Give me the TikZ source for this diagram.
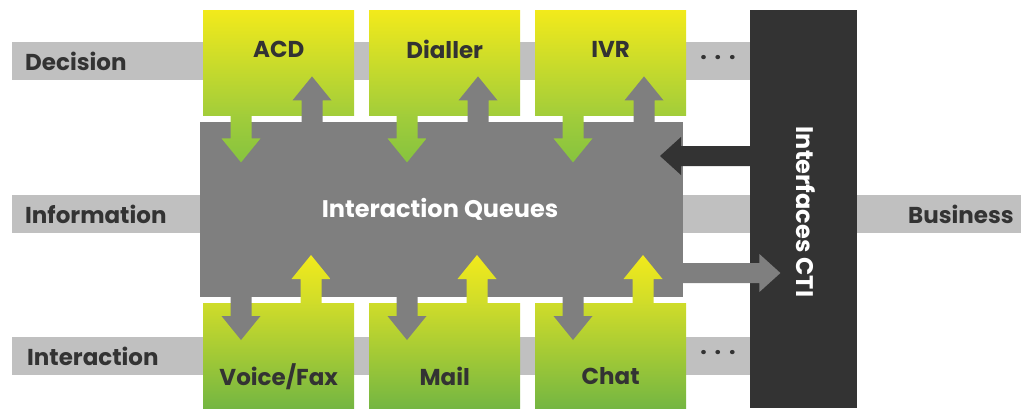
\documentclass[tikz,border=0pt]{standalone}
\usepackage{fontspec}
\setmainfont{Poppins}
\usetikzlibrary{calc,positioning}

\definecolor{bandgray}{HTML}{C0C0C0}
\definecolor{queuegray}{HTML}{7F7F7F}
\definecolor{ctidark}{HTML}{333333}
\definecolor{labeltext}{HTML}{333333}
\definecolor{boxyellow}{HTML}{F2EA1B}
\definecolor{boxlime}{HTML}{A2CD3A}
\definecolor{lowtop}{HTML}{CFDC2A}
\definecolor{lowgreen}{HTML}{74B642}
\definecolor{tipgreen}{HTML}{86C33F}

% block arrows: style, tail, signed length (y grows downwards)
\newcommand{\vblock}[3]{%
  \pgfmathsetmacro{\hb}{#3-24*#3/abs(#3)}
  \path[#1, shift={(#2)}] (-10.5,0) -- (-10.5,\hb) -- (-19.5,\hb) -- (0,#3)
    -- (19.5,\hb) -- (10.5,\hb) -- (10.5,0) -- cycle;
}
\newcommand{\hblock}[3]{%
  \pgfmathsetmacro{\hb}{#3-21*#3/abs(#3)}
  \path[#1, shift={(#2)}] (0,-10) -- (\hb,-10) -- (\hb,-19) -- (#3,0)
    -- (\hb,19) -- (\hb,10) -- (0,10) -- cycle;
}

\tikzset{
  band/.style={fill=bandgray, inner sep=0, anchor=north west},
  topbox/.style={top color=boxyellow, bottom color=boxlime, inner sep=0,
    minimum width=151, minimum height=105, anchor=north west},
  lowbox/.style={top color=lowtop, bottom color=lowgreen, inner sep=0,
    minimum width=151, minimum height=105, anchor=north west},
  lbl/.style={text=labeltext, font=\fontsize{23}{27}\selectfont\bfseries, inner sep=0},
  whitelbl/.style={text=white, font=\fontsize{24}{28}\selectfont\bfseries, inner sep=0},
}

\begin{document}
\begin{tikzpicture}[x=1pt, y=-1pt]
    \useasboundingbox (0,0) rectangle (1021,410);

    % Draw the three layer bands
    \node[band, minimum width=738, minimum height=38] (decband) at (12,42) {};
    \node[band, minimum width=1009, minimum height=38] (infband) at (12,195) {};
    \node[band, minimum width=738, minimum height=38] (intband) at (12,337) {};

    % Draw the boxes
    \node[fill=queuegray, inner sep=0, minimum width=483, minimum height=175,
      anchor=north west] (queue) at (200,122) {};
    \node[fill=ctidark, inner sep=0, minimum width=107, minimum height=398,
      anchor=north west] (cti) at (750,10) {};
    \foreach \bx/\nm in {203/acd, 369/dial, 535/ivr}
        \node[topbox] (\nm) at (\bx,10) {};
    \foreach \bx/\nm in {203/voice, 369/mail, 535/chat}
        \node[lowbox] (\nm) at (\bx,303) {};

    % Arrows between decision boxes and queues
    \foreach \nm in {acd, dial, ivr} {
        \coordinate (\nm-dn) at ($(\nm.south west)+(38,-1)$);
        \coordinate (\nm-up) at ($(\nm.south west)+(109,8)$);
        \vblock{top color=boxlime, bottom color=tipgreen}{\nm-dn}{48}
        \vblock{fill=queuegray}{\nm-up}{-47}
    }

    % Arrows between queues and interaction boxes
    \foreach \nm in {voice, mail, chat} {
        \coordinate (\nm-dn) at ($(\nm.north west)+(38,-7)$);
        \coordinate (\nm-up) at ($(\nm.north west)+(108,1)$);
        \vblock{fill=queuegray}{\nm-dn}{44}
        \vblock{top color=boxyellow, bottom color=lowtop}{\nm-up}{-49}
    }

    % Arrows to and from the CTI interfaces
    \coordinate (cti-in) at ($(cti.north west)+(1,146)$);
    \coordinate (queue-out) at ($(queue.north east)+(-1,151)$);
    \hblock{fill=ctidark}{cti-in}{-91}
    \hblock{fill=queuegray}{queue-out}{98}

    % Labels
    \node[lbl, anchor=west] (decision) at (25,61) {Decision};
    \node[lbl, anchor=west] (information) at (25,214) {Information};
    \node[lbl, anchor=west] (interaction) at (27,356) {Interaction};
    \node[lbl, anchor=east] (business) at (1014,214) {Business};
    \node[lbl] (acdtxt) at ($(acd.north)+(0,39)$) {ACD};
    \node[lbl] (dialtxt) at ($(dial.north)+(0,39)$) {Dialler};
    \node[lbl] (ivrtxt) at ($(ivr.north)+(0,39)$) {IVR};
    \node[lbl] (voicetxt) at ($(voice.north)+(0,74)$) {Voice/Fax};
    \node[lbl] (mailtxt) at ($(mail.north)+(0,73)$) {Mail};
    \node[lbl] (chattxt) at ($(chat.north)+(0,73)$) {Chat};
    \node[lbl] (decdots) at (718,58) {.\hspace{8pt}.\hspace{8pt}.};
    \node[lbl] (intdots) at (718,353) {.\hspace{8pt}.\hspace{8pt}.};
    \node[whitelbl] (queuetxt) at (440,209) {Interaction Queues};
    \node[whitelbl, rotate=-90] (ctitxt) at (806,212) {Interfaces CTI};
\end{tikzpicture}
\end{document}
